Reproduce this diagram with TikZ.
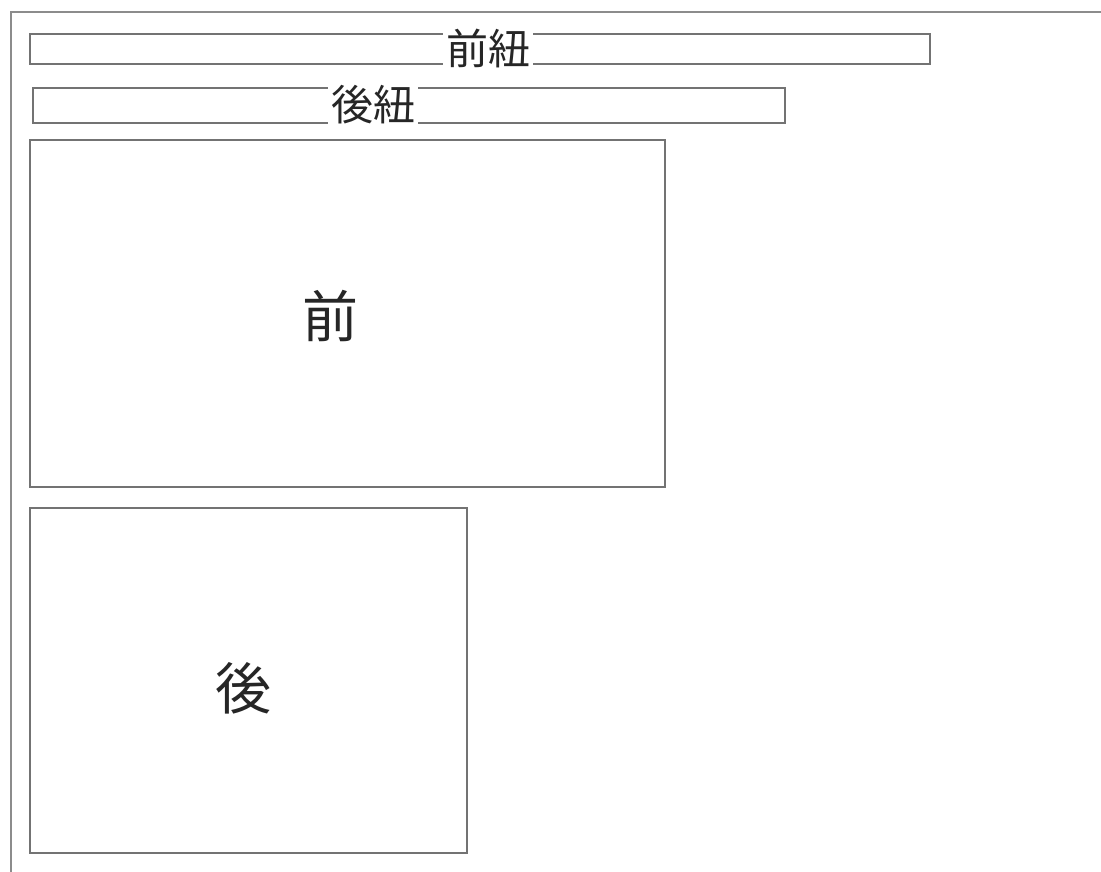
\documentclass[tikz,border=0pt]{standalone}
\usepackage{fontspec}
\newfontfamily\jp{Noto Sans CJK JP}
\begin{document}
\begin{tikzpicture}[x=1pt,y=-1pt,
  frame/.style={draw=black!45, line width=1.6pt},
  box/.style={draw=black!55, line width=1.3pt, inner sep=0pt, outer sep=0pt, anchor=north west},
  lab/.style={fill=white, inner sep=3pt, font=\jp\fontsize{42}{42}\selectfont, text=black!85},
  big/.style={inner sep=0pt, font=\jp\fontsize{56}{56}\selectfont, text=black!85}]
\useasboundingbox (0,0) rectangle (1101,871);
\fill[white] (0,0) rectangle (1101,871);
\coordinate (fbl) at (11,900);
\coordinate (ftl) at (11,12);
\coordinate (ftr) at (1120,12);
\draw[frame] (fbl) -- (ftl) -- (ftr);
\node[box, minimum width=900pt, minimum height=30pt] (fs) at (30,34) {};
\node[lab] (fsl) at (488,48) {前紐};
\node[box, minimum width=752pt, minimum height=35pt] (bs) at (33,88) {};
\node[lab] (bsl) at (373,105) {後紐};
\node[box, minimum width=635pt, minimum height=347pt] (f) at (30,140) {};
\node[big] (fl) at (330,316) {前};
\node[box, minimum width=437pt, minimum height=345pt] (b) at (30,508) {};
\node[big] (bl) at (243,688) {後};
\end{tikzpicture}
\end{document}
